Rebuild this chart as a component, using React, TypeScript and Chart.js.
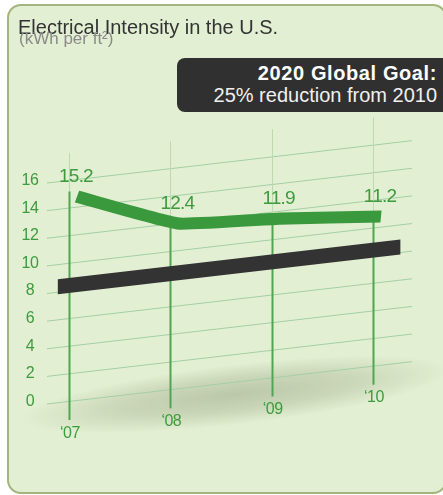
import React, { useEffect, useRef } from "react";
import { Chart, registerables } from "chart.js";

Chart.register(...registerables);

// ---- data ----
const YEARS = ["\u201807", "\u201808", "\u201809", "\u201810"];
const INTENSITY = [15.2, 12.4, 11.9, 11.2];
const INTENSITY_LABELS = ["15.2", "12.4", "11.9", "11.2"];
const GOAL_VALUE = 8.4;
const GOAL_SPAN = [-0.11, 3.27]; // goal band extent, in year-index units
const Y_TICKS = [0, 2, 4, 6, 8, 10, 12, 14, 16];
const TITLE = "Electrical Intensity in the U.S.";
const SUBTITLE = "(kWh per ft\u00B2)";
const GOAL_HEAD = "2020 Global Goal:";
const GOAL_TEXT = "25% reduction from 2010";

// ---- style ----
const FONT = '"Liberation Sans", Arial, Helvetica, sans-serif';
const K = 0.116; // perspective slant of the plot plane
const GREEN = "#3a993c";
const LABEL_GREEN = "#3d9a3f";

const skewPlugin = {
  id: "skewPlane",
  beforeDatasetsDraw(chart: any) {
    const { ctx, chartArea, scales } = chart;
    const xs = scales.x;
    const ys = scales.y;
    const x0 = chartArea.left;
    const sy = (px: number, v: number) => ys.getPixelForValue(v) - K * (px - x0);

    // soft shadow under the plane
    ctx.save();
    const cx = xs.getPixelForValue(1.65);
    const cy = sy(cx, -0.9);
    const rx = 215;
    const ry = 30;
    ctx.translate(cx, cy);
    ctx.rotate(-Math.atan(K));
    ctx.scale(1, ry / rx);
    const g = ctx.createRadialGradient(0, 0, 0, 0, 0, rx);
    g.addColorStop(0, "rgba(110,120,90,0.33)");
    g.addColorStop(0.55, "rgba(110,120,90,0.2)");
    g.addColorStop(1, "rgba(110,120,90,0)");
    ctx.fillStyle = g;
    ctx.fillRect(-rx, -rx, 2 * rx, 2 * rx);
    ctx.restore();

    // horizontal grid lines
    ctx.save();
    ctx.strokeStyle = "#a3cfa3";
    ctx.lineWidth = 1;
    Y_TICKS.forEach((v) => {
      ctx.beginPath();
      ctx.moveTo(chartArea.left, sy(chartArea.left, v));
      ctx.lineTo(chartArea.right, sy(chartArea.right, v));
      ctx.stroke();
    });

    // vertical year lines
    YEARS.forEach((_, i) => {
      const px = Math.round(xs.getPixelForValue(i)) + 0.5;
      ctx.strokeStyle = "#bcdaae";
      ctx.lineWidth = 1;
      ctx.beginPath();
      ctx.moveTo(px, sy(px, INTENSITY[i]));
      ctx.lineTo(px, sy(px, 18));
      ctx.stroke();
      ctx.strokeStyle = "#4fa650";
      ctx.lineWidth = 2;
      ctx.beginPath();
      ctx.moveTo(px, sy(px, -1.35));
      ctx.lineTo(px, sy(px, INTENSITY[i]));
      ctx.stroke();
    });

    // y tick labels
    ctx.fillStyle = LABEL_GREEN;
    ctx.font = `16px ${FONT}`;
    (ctx as any).letterSpacing = "-0.5px";
    ctx.textAlign = "center";
    ctx.textBaseline = "middle";
    Y_TICKS.forEach((v) => {
      ctx.fillText(String(v), x0 - 17, sy(x0, v) - 2.5);
    });

    // year labels
    YEARS.forEach((lab, i) => {
      const px = xs.getPixelForValue(i);
      ctx.fillText(lab, px + 1, sy(px, -1.35) + 13);
    });
    (ctx as any).letterSpacing = "0px";
    ctx.restore();
  },
  beforeDatasetDraw(chart: any, args: any) {
    const { ctx, chartArea } = chart;
    ctx.save();
    ctx.transform(1, -K, 0, 1, 0, K * chartArea.left);
    if (args.index === 0) ctx.translate(8, 6);
  },
  afterDatasetDraw(chart: any) {
    chart.ctx.restore();
  },
  afterDatasetsDraw(chart: any) {
    const { ctx, chartArea, scales } = chart;
    const xs = scales.x;
    const ys = scales.y;
    const x0 = chartArea.left;
    ctx.save();
    ctx.fillStyle = LABEL_GREEN;
    ctx.font = `19px ${FONT}`;
    (ctx as any).letterSpacing = "-0.8px";
    ctx.textAlign = "center";
    ctx.textBaseline = "middle";
    INTENSITY_LABELS.forEach((lab, i) => {
      const px = xs.getPixelForValue(i);
      const py = ys.getPixelForValue(INTENSITY[i]) - K * (px - x0);
      ctx.fillText(lab, px + 7, py - 15);
    });
    (ctx as any).letterSpacing = "0px";
    ctx.restore();
  },
};

function IntensityChart() {
  const ref = useRef<HTMLCanvasElement | null>(null);
  useEffect(() => {
    if (!ref.current) return;
    const chart = new Chart(ref.current, {
      type: "line",
      data: {
        datasets: [
          {
            label: "Electrical intensity",
            data: INTENSITY.map((v, i) => ({ x: i, y: v })),
            borderColor: GREEN,
            borderWidth: 12,
            tension: 0.12,
            borderCapStyle: "butt",
            borderJoinStyle: "round",
            pointRadius: 0,
            fill: false,
            clip: false,
          } as any,
          {
            label: "2020 goal",
            data: GOAL_SPAN.map((x) => ({ x, y: GOAL_VALUE })),
            borderColor: "#333333",
            borderWidth: 15,
            borderCapStyle: "butt",
            pointRadius: 0,
            fill: false,
            clip: false,
          } as any,
        ],
      },
      options: {
        responsive: false,
        animation: false,
        devicePixelRatio: 1,
        layout: { padding: { left: 47, right: 31, top: 183, bottom: 91 } },
        scales: {
          x: { type: "linear", min: -0.217, max: 3.385, display: false },
          y: { type: "linear", min: 0, max: 16, display: false },
        },
        plugins: { legend: { display: false }, tooltip: { enabled: false } },
        events: [],
      },
      plugins: [skewPlugin],
    });
    return () => chart.destroy();
  }, []);
  return (
    <canvas
      ref={ref}
      width={443}
      height={495}
      style={{ position: "absolute", left: 0, top: 0, width: 443, height: 495 }}
    />
  );
}

export default function App() {
  return (
    <div
      style={{
        position: "fixed",
        left: 0,
        top: 0,
        width: 443,
        height: 495,
        background: "#ffffff",
        overflow: "hidden",
        fontFamily: FONT,
      }}
    >
      <div
        style={{
          position: "absolute",
          left: 7,
          top: 4,
          width: 440,
          height: 490,
          boxSizing: "border-box",
          border: "2px solid #a3b47c",
          borderRadius: 14,
          background: "#e3efd2",
        }}
      />
      <IntensityChart />
      <div
        style={{
          position: "absolute",
          left: 18,
          top: 17,
          fontSize: 20,
          lineHeight: "20px",
          color: "#333333",
          whiteSpace: "nowrap",
        }}
      >
        {TITLE}
      </div>
      <div
        style={{
          position: "absolute",
          left: 19,
          top: 30,
          fontSize: 17,
          lineHeight: "17px",
          color: "#8a8a8a",
          whiteSpace: "nowrap",
        }}
      >
        {SUBTITLE}
      </div>
      <div
        style={{
          position: "absolute",
          left: 177,
          top: 58,
          width: 280,
          height: 54,
          borderRadius: 8,
          background: "#303030",
        }}
      />
      <div
        style={{
          position: "absolute",
          right: 6,
          top: 63,
          fontSize: 20,
          lineHeight: "20px",
          fontWeight: "bold",
          letterSpacing: 0.6,
          color: "#ffffff",
          whiteSpace: "nowrap",
        }}
      >
        {GOAL_HEAD}
      </div>
      <div
        style={{
          position: "absolute",
          right: 6,
          top: 85,
          fontSize: 20,
          lineHeight: "20px",
          color: "#f0f0f0",
          whiteSpace: "nowrap",
        }}
      >
        {GOAL_TEXT}
      </div>
    </div>
  );
}
